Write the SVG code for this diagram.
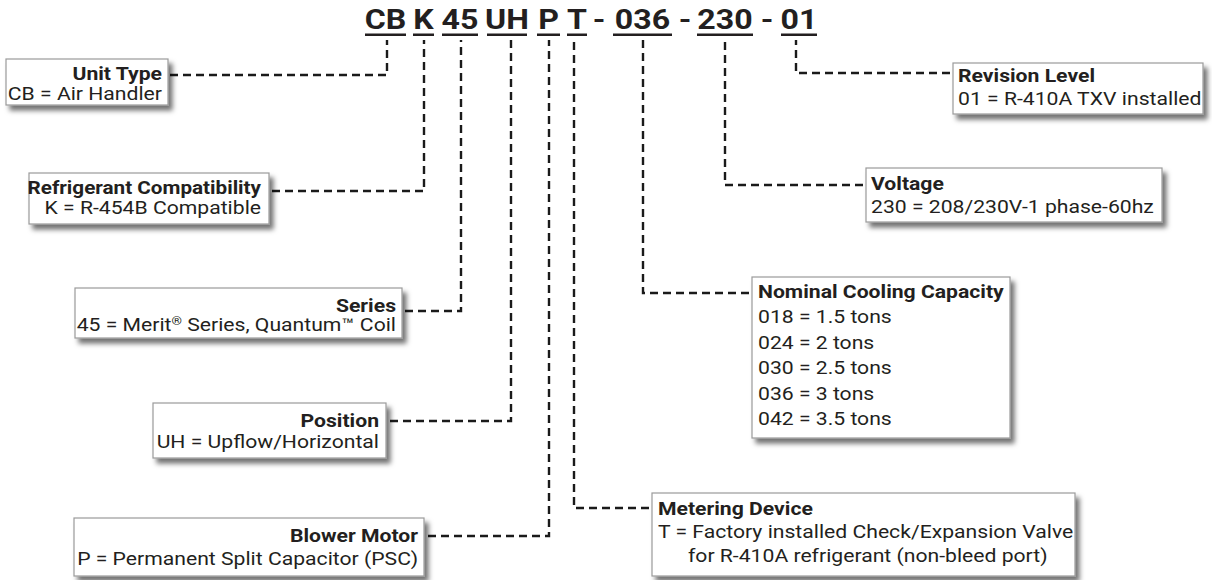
<svg xmlns="http://www.w3.org/2000/svg" width="1212" height="580" viewBox="0 0 1212 580">
<style>
.t{font-family:Roboto,"Liberation Sans",Arial,sans-serif;font-size:17.5px;fill:#231f20}
.b{font-weight:bold}
.e{text-anchor:end}
.h{font-family:Roboto,"Liberation Sans",Arial,sans-serif;font-size:27px;font-weight:bold;fill:#231f20;text-anchor:middle}
.box{fill:#fff;stroke:#9a9a9a;stroke-width:1.2;filter:url(#sh)}
.c{fill:none;stroke:#1a1a1a;stroke-width:2.4;stroke-dasharray:8 5}
.u{fill:#231f20}
</style>
<defs>
<filter id="sh" x="-10%" y="-20%" width="130%" height="150%">
<feDropShadow dx="4" dy="5" stdDeviation="2.5" flood-color="#000" flood-opacity="0.55"/>
</filter>
</defs>
<rect width="1212" height="580" fill="#fff"/>
<g id="title">
<text class="h" transform="translate(385.5 29) scale(1.19 1)">CB</text>
<text class="h" transform="translate(423.5 29) scale(1.19 1)">K</text>
<text class="h" transform="translate(460 29) scale(1.19 1)">45</text>
<text class="h" transform="translate(507 29) scale(1.19 1)">UH</text>
<text class="h" transform="translate(548.5 29) scale(1.19 1)">P</text>
<text class="h" transform="translate(577 29) scale(1.19 1)">T</text>
<text class="h" transform="translate(599 29) scale(1.19 1)">-</text>
<text class="h" transform="translate(642.5 29) scale(1.19 1)">036</text>
<text class="h" transform="translate(685 29) scale(1.19 1)">-</text>
<text class="h" transform="translate(725 29) scale(1.19 1)">230</text>
<text class="h" transform="translate(767 29) scale(1.19 1)">-</text>
<text class="h" transform="translate(799 29) scale(1.19 1)">01</text>
<rect class="u" x="365" y="33.5" width="41" height="2.5"/>
<rect class="u" x="413" y="33.5" width="21" height="2.5"/>
<rect class="u" x="442" y="33.5" width="36" height="2.5"/>
<rect class="u" x="487" y="33.5" width="40" height="2.5"/>
<rect class="u" x="537" y="33.5" width="23" height="2.5"/>
<rect class="u" x="567" y="33.5" width="20" height="2.5"/>
<rect class="u" x="613" y="33.5" width="59" height="2.5"/>
<rect class="u" x="697" y="33.5" width="56" height="2.5"/>
<rect class="u" x="781" y="33.5" width="36" height="2.5"/>
</g>
<g id="connectors">
<path class="c" d="M170,75 H387 V40"/>
<path class="c" d="M272,191 H424 V40"/>
<path class="c" d="M405,311 H461 V40"/>
<path class="c" d="M390,421 H511 V40"/>
<path class="c" d="M428,536 H549 V40"/>
<path class="c" d="M649,508 H574 V40"/>
<path class="c" d="M749,293 H643 V40"/>
<path class="c" d="M863,185 H725 V40"/>
<path class="c" d="M950,73 H796 V40"/>
</g>
<g id="unit-type">
<rect class="box" x="6" y="59" width="162" height="46"/>
<text class="t b e" transform="translate(162 80) scale(1.21 1)">Unit Type</text>
<text class="t e" transform="translate(162 100) scale(1.21 1)">CB = Air Handler</text>
</g>
<g id="refrigerant">
<rect class="box" x="29" y="173" width="240" height="51"/>
<text class="t b e" transform="translate(261 194) scale(1.21 1)" textLength="193" lengthAdjust="spacingAndGlyphs">Refrigerant Compatibility</text>
<text class="t e" transform="translate(261 214) scale(1.21 1)">K = R-454B Compatible</text>
</g>
<g id="series">
<rect class="box" x="75" y="288" width="327" height="50"/>
<text class="t b e" transform="translate(396 312) scale(1.21 1)">Series</text>
<text class="t e" transform="translate(396 331) scale(1.21 1)">45 = Merit<tspan font-size="11" dy="-6">®</tspan><tspan dy="6"> Series, Quantum™ Coil</tspan></text>
</g>
<g id="position">
<rect class="box" x="153" y="403" width="233" height="55"/>
<text class="t b e" transform="translate(379 427) scale(1.21 1)">Position</text>
<text class="t e" transform="translate(379 448) scale(1.21 1)">UH = Upflow/Horizontal</text>
</g>
<g id="blower">
<rect class="box" x="74" y="518" width="350" height="58"/>
<text class="t b e" transform="translate(418 542) scale(1.21 1)">Blower Motor</text>
<text class="t e" transform="translate(418 565) scale(1.21 1)">P = Permanent Split Capacitor (PSC)</text>
</g>
<g id="revision">
<rect class="box" x="953" y="63" width="250" height="51"/>
<text class="t b" transform="translate(958 82) scale(1.21 1)">Revision Level</text>
<text class="t" transform="translate(958 105) scale(1.21 1)">01 = R-410A TXV installed</text>
</g>
<g id="voltage">
<rect class="box" x="866" y="168" width="296" height="54"/>
<text class="t b" transform="translate(871 190) scale(1.21 1)">Voltage</text>
<text class="t" transform="translate(871 213) scale(1.21 1)">230 = 208/230V-1 phase-60hz</text>
</g>
<g id="capacity">
<rect class="box" x="752" y="277" width="258" height="161"/>
<text class="t b" transform="translate(758 298) scale(1.21 1)">Nominal Cooling Capacity</text>
<text class="t" transform="translate(758 323) scale(1.21 1)">018 = 1.5 tons</text>
<text class="t" transform="translate(758 349) scale(1.21 1)">024 = 2 tons</text>
<text class="t" transform="translate(758 374) scale(1.21 1)">030 = 2.5 tons</text>
<text class="t" transform="translate(758 400) scale(1.21 1)">036 = 3 tons</text>
<text class="t" transform="translate(758 425) scale(1.21 1)">042 = 3.5 tons</text>
</g>
<g id="metering">
<rect class="box" x="652" y="493" width="423" height="83"/>
<text class="t b" transform="translate(658 515) scale(1.21 1)">Metering Device</text>
<text class="t" transform="translate(658 538) scale(1.21 1)">T = Factory installed Check/Expansion Valve</text>
<text class="t" transform="translate(688 562) scale(1.21 1)">for R-410A refrigerant (non-bleed port)</text>
</g>
</svg>
